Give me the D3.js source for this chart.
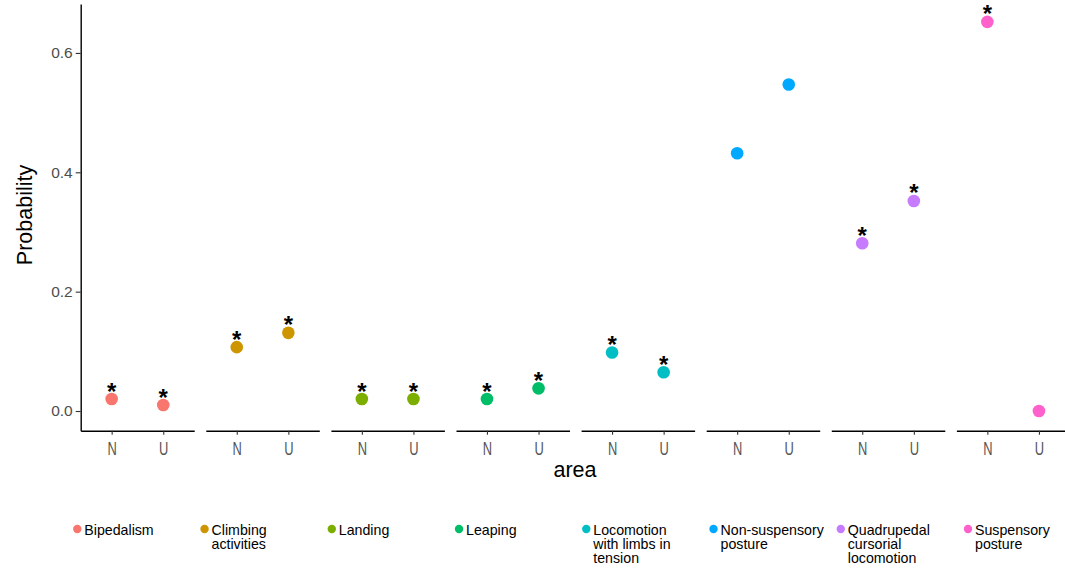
<!DOCTYPE html>
<html>
<head>
<meta charset="utf-8">
<script src="https://cdn.jsdelivr.net/npm/d3@7"></script>
<style>
  html, body { margin: 0; padding: 0; background: #fff; }
  svg { display: block; font-family: "Liberation Sans", Arial, sans-serif; }
</style>
</head>
<body>
<svg id="chart" width="1065" height="569"></svg>
<script>
// ---- data ----
const categories = ["Bipedalism", "Climbing activities", "Landing", "Leaping",
  "Locomotion with limbs in tension", "Non-suspensory posture",
  "Quadrupedal cursorial locomotion", "Suspensory posture"];
const legendLines = [["Bipedalism"], ["Climbing", "activities"], ["Landing"], ["Leaping"],
  ["Locomotion", "with limbs in", "tension"], ["Non-suspensory", "posture"],
  ["Quadrupedal", "cursorial", "locomotion"], ["Suspensory", "posture"]];
const areas = ["N", "U"];
const probN = [0.020, 0.107, 0.020, 0.020, 0.098, 0.432, 0.281, 0.652];
const probU = [0.010, 0.131, 0.020, 0.038, 0.065, 0.547, 0.352, 0.000];
const sigN = [true, true, true, true, true, false, true, true];
const sigU = [true, true, true, true, true, false, true, false];
const yTicks = [0.0, 0.2, 0.4, 0.6];
const colors = ["#F8766D", "#CD9600", "#7CAE00", "#00BE67", "#00BFC4", "#00A9FF", "#C77CFF", "#FF61CC"];

const rows = [];
categories.forEach((c, i) => {
  rows.push({cat: c, area: "N", p: probN[i], sig: sigN[i], col: colors[i]});
  rows.push({cat: c, area: "U", p: probU[i], sig: sigU[i], col: colors[i]});
});

// ---- layout ----
const svg = d3.select("#chart");
svg.append("rect").attr("width", 1065).attr("height", 569).attr("fill", "#fff");

const y = d3.scaleLinear().domain([-0.033, 0.682]).range([430.7, 4]);
const fx = d3.scaleBand().domain(categories).range([80.7, 1069.9]).paddingInner(0.0927);
const xIn = d3.scalePoint().domain(areas).range([0, fx.bandwidth()]).padding(0.6);

// y axis
const yAxis = svg.append("g").attr("transform", "translate(80.7,0)")
  .call(d3.axisLeft(y).tickValues(yTicks).tickFormat(d3.format(".1f")).tickSize(5).tickSizeOuter(0).tickPadding(3));
yAxis.select(".domain").attr("stroke", "#000").attr("stroke-width", 1.4);
yAxis.selectAll(".tick line").attr("stroke", "#333").attr("stroke-width", 1.1);
yAxis.selectAll(".tick text").attr("fill", "#4D4D4D").style("font-size", "15.5px");

// panels
categories.forEach((c, i) => {
  const g = svg.append("g").attr("transform", `translate(${fx(c)},0)`);
  const ax = g.append("g").attr("transform", "translate(0,430.7)")
    .call(d3.axisBottom(xIn).tickSize(4).tickSizeOuter(0).tickPadding(0));
  ax.select(".domain").attr("stroke", "#000").attr("stroke-width", 1.4);
  ax.selectAll(".tick line").attr("stroke", "#333").attr("stroke-width", 1.1);
  ax.selectAll(".tick text").remove();
  ax.selectAll(".tick").append("text")
    .attr("fill", "#555")
    .attr("transform", "translate(0,24.5) scale(0.68,1)")
    .attr("text-anchor", "middle")
    .style("font-size", "19px")
    .text(d => d);

  const pts = rows.filter(r => r.cat === c);
  g.selectAll("circle.pt").data(pts).join("circle")
    .attr("class", "pt")
    .attr("cx", d => xIn(d.area))
    .attr("cy", d => y(d.p))
    .attr("r", 6.3)
    .attr("fill", d => d.col);
  g.selectAll("text.star").data(pts.filter(d => d.sig)).join("text")
    .attr("class", "star")
    .attr("x", d => xIn(d.area))
    .attr("y", d => y(d.p) + 0.5)
    .attr("text-anchor", "middle")
    .style("font-size", "24px")
    .style("font-weight", "bold")
    .attr("fill", "#000")
    .text("*");
});

// axis titles
svg.append("text").attr("x", 575).attr("y", 477).attr("text-anchor", "middle")
  .style("font-size", "21.5px").attr("fill", "#000").text("area");
svg.append("text").attr("transform", "translate(32,215) rotate(-90)").attr("text-anchor", "middle")
  .style("font-size", "21.5px").attr("fill", "#000").text("Probability");

// legend
const lx = d3.scalePoint().domain(categories).range([77.3, 968]);
const leg = svg.append("g");
categories.forEach((c, i) => {
  const g = leg.append("g").attr("transform", `translate(${lx(c)},0)`);
  g.append("circle").attr("cx", 0).attr("cy", 529).attr("r", 4.2).attr("fill", colors[i]);
  const t = g.append("text").attr("x", 7).attr("y", 535).style("font-size", "14.2px").attr("fill", "#000");
  legendLines[i].forEach((ln, k) => {
    t.append("tspan").attr("x", 7).attr("y", 535 + k * 13.8).text(ln);
  });
});
</script>
</body>
</html>
